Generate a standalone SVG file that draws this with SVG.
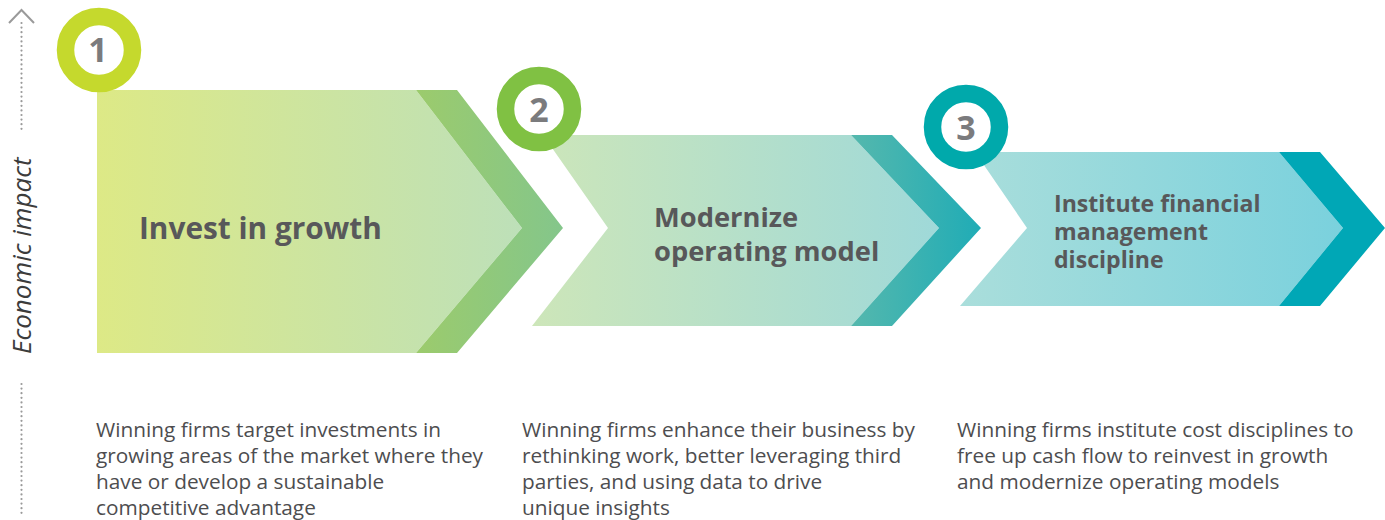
<svg xmlns="http://www.w3.org/2000/svg" width="1385" height="520" viewBox="0 0 1385 520">
  <defs>
    <linearGradient id="g1" gradientUnits="userSpaceOnUse" x1="97" y1="0" x2="522" y2="0">
      <stop offset="0" stop-color="#dde986"/>
      <stop offset="1" stop-color="#bde0b9"/>
    </linearGradient>
    <linearGradient id="g1d" gradientUnits="userSpaceOnUse" x1="415" y1="0" x2="563" y2="0">
      <stop offset="0" stop-color="#9ccb6c"/>
      <stop offset="1" stop-color="#84c68b"/>
    </linearGradient>
    <linearGradient id="g2" gradientUnits="userSpaceOnUse" x1="532" y1="0" x2="939" y2="0">
      <stop offset="0" stop-color="#cde6b9"/>
      <stop offset="1" stop-color="#9fd9d9"/>
    </linearGradient>
    <linearGradient id="g2d" gradientUnits="userSpaceOnUse" x1="850" y1="0" x2="981" y2="0">
      <stop offset="0" stop-color="#55b8ad"/>
      <stop offset="1" stop-color="#20acb6"/>
    </linearGradient>
    <linearGradient id="g3" gradientUnits="userSpaceOnUse" x1="960" y1="0" x2="1343" y2="0">
      <stop offset="0" stop-color="#aadedb"/>
      <stop offset="1" stop-color="#7ad1dd"/>
    </linearGradient>
    <style>
      .axis { stroke: #9a9a9a; stroke-width: 2.2; stroke-linecap: round; stroke-dasharray: 0 4.6; fill: none; }
      .caret { stroke: #9a9a9a; stroke-width: 2; fill: none; }
      .axis-label { font-family: "Open Sans", "Liberation Sans", sans-serif; font-style: italic; font-size: 26px; fill: #3c3c3c; }
      .ring { fill: #ffffff; stroke-width: 17.5; }
      .num { font-family: "Open Sans", "Liberation Sans", sans-serif; font-weight: 700; font-size: 34px; fill: #7b7b7d; text-anchor: middle; }
      .title { font-family: "Open Sans", "Liberation Sans", sans-serif; font-weight: 700; fill: #58585a; }
      .body { font-family: "Open Sans", "Liberation Sans", sans-serif; font-size: 20.8px; fill: #4d4d4f; }
    </style>
  </defs>

  <!-- vertical axis: economic impact -->
  <g id="axis">
    <line class="axis" x1="21.5" y1="23" x2="21.5" y2="133"/>
    <line class="axis" x1="21.5" y1="384" x2="21.5" y2="516"/>
    <polyline class="caret" points="9,23 21.5,10 34,23"/>
    <text class="axis-label" transform="translate(31,354) rotate(-90)">Economic impact</text>
  </g>

  <!-- step 1 -->
  <g id="step1">
    <polygon fill="url(#g1)" points="97,90 416,90 522,228 416,353 97,353"/>
    <polygon fill="url(#g1d)" points="416,90 457,90 563,228 457,353 416,353 522,228"/>
    <circle class="ring" cx="99" cy="50" r="33.5" stroke="#c5d92d"/>
    <text class="num" x="98" y="62">1</text>
    <text class="title" x="139" y="239" font-size="29.8px">Invest in growth</text>
    <text class="body">
      <tspan x="96" y="437">Winning firms target investments in</tspan>
      <tspan x="96" y="463">growing areas of the market where they</tspan>
      <tspan x="96" y="489">have or develop a sustainable</tspan>
      <tspan x="96" y="515">competitive advantage</tspan>
    </text>
  </g>

  <!-- step 2 -->
  <g id="step2">
    <polygon fill="url(#g2)" points="543,135 851,135 939,228 851,326 532,326 608,228"/>
    <polygon fill="url(#g2d)" points="851,135 892,135 981,228 892,326 851,326 939,228"/>
    <circle class="ring" cx="539" cy="109" r="33.5" stroke="#80c143"/>
    <text class="num" x="539" y="122">2</text>
    <text class="title" font-size="27.3px">
      <tspan x="654" y="227">Modernize</tspan>
      <tspan x="654" y="261">operating model</tspan>
    </text>
    <text class="body">
      <tspan x="522" y="437">Winning firms enhance their business by</tspan>
      <tspan x="522" y="463">rethinking work, better leveraging third</tspan>
      <tspan x="522" y="489">parties, and using data to drive</tspan>
      <tspan x="522" y="515">unique insights</tspan>
    </text>
  </g>

  <!-- step 3 -->
  <g id="step3">
    <polygon fill="url(#g3)" points="975,152 1279,152 1343,228 1279,306 960,306 1027,228"/>
    <polygon fill="#00a7b6" points="1279,152 1320,152 1385,228 1320,306 1279,306 1343,228"/>
    <circle class="ring" cx="966" cy="127" r="33.5" stroke="#00a9ab"/>
    <text class="num" x="966" y="140">3</text>
    <text class="title" font-size="23.1px">
      <tspan x="1054" y="212">Institute financial</tspan>
      <tspan x="1054" y="240">management</tspan>
      <tspan x="1054" y="268">discipline</tspan>
    </text>
    <text class="body">
      <tspan x="957" y="437">Winning firms institute cost disciplines to</tspan>
      <tspan x="957" y="463">free up cash flow to reinvest in growth</tspan>
      <tspan x="957" y="489">and modernize operating models</tspan>
    </text>
  </g>
</svg>
